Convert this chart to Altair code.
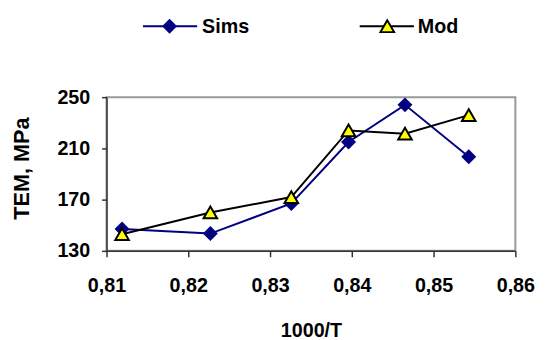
import altair as alt
import pandas as pd

x_vals = [0.8119, 0.8227, 0.8326, 0.8396, 0.8465, 0.8543]
sims = [147, 143.5, 167, 215, 244, 203.5]
mod = [143, 160, 172, 224, 221.5, 236]
x_ticks = [0.81, 0.82, 0.83, 0.84, 0.85, 0.86]
y_ticks = [130, 170, 210, 250]

FONT = "Liberation Sans"
FS = 20

df = pd.DataFrame({"x": x_vals, "Sims": sims, "Mod": mod})

xscale = alt.Scale(domain=[0.81, 0.86], nice=False, zero=False)
yscale = alt.Scale(domain=[130, 250], nice=False, zero=False)

xaxis = alt.Axis(
    values=x_ticks, labelExpr="replace(format(datum.value, '.2f'), '.', ',')",
    title="1000/T", grid=False, tickSize=6, labelPadding=19, labelFlush=False,
    labelOverlap=False, titleY=87, titleBaseline="alphabetic",
)
yaxis = alt.Axis(
    values=y_ticks, title="TEM, MPa", grid=False, tickSize=5, labelPadding=12,
    labelFlush=False, labelOverlap=False, titleFontSize=22,
    titleX=-86, titleY=72, titleBaseline="middle", titleAngle=-90, titleAlign="center",
)

DS = 230
TS = 190

base = alt.Chart(df)
sims_line = base.mark_line(color="#000080", strokeWidth=2).encode(
    x=alt.X("x:Q", scale=xscale, axis=xaxis), y=alt.Y("Sims:Q", scale=yscale, axis=yaxis))
sims_pts = base.mark_point(shape="diamond", filled=True, color="#000080", size=DS, opacity=1).encode(
    x=alt.X("x:Q", scale=xscale), y=alt.Y("Sims:Q", scale=yscale))
mod_line = base.mark_line(color="black", strokeWidth=2).encode(
    x=alt.X("x:Q", scale=xscale), y=alt.Y("Mod:Q", scale=yscale))
mod_pts = base.mark_point(shape="triangle-up", filled=True, fill="#FFFF00", stroke="black",
                          strokeWidth=2, size=TS, opacity=1).encode(
    x=alt.X("x:Q", scale=xscale), y=alt.Y("Mod:Q", scale=yscale))

# manual legend
leg_df = pd.DataFrame({"label": ["Sims"]})
leg_df2 = pd.DataFrame({"label": ["Mod"]})
LY = -72
l1 = alt.Chart(leg_df).mark_rule(color="#000080", strokeWidth=2).encode(
    x=alt.value(37), x2=alt.value(92), y=alt.value(LY))
p1 = alt.Chart(leg_df).mark_point(shape="diamond", filled=True, color="#000080", size=DS, opacity=1).encode(
    x=alt.value(64), y=alt.value(LY))
t1 = alt.Chart(leg_df).mark_text(align="left", baseline="middle", font=FONT, fontSize=FS,
                                 fontWeight="bold", color="black").encode(
    x=alt.value(97), y=alt.value(LY + 1), text="label:N")
l2 = alt.Chart(leg_df2).mark_rule(color="black", strokeWidth=2).encode(
    x=alt.value(257), x2=alt.value(312), y=alt.value(LY))
p2 = alt.Chart(leg_df2).mark_point(shape="triangle-up", filled=True, fill="#FFFF00", stroke="black",
                                   strokeWidth=2, size=TS, opacity=1).encode(
    x=alt.value(285), y=alt.value(LY))
t2 = alt.Chart(leg_df2).mark_text(align="left", baseline="middle", font=FONT, fontSize=FS,
                                  fontWeight="bold", color="black").encode(
    x=alt.value(316), y=alt.value(LY + 1), text="label:N")

chart = alt.layer(sims_line, sims_pts, mod_line, mod_pts, l1, p1, t1, l2, p2, t2).properties(
    width=415, height=156,
    padding={"left": 100, "top": 88, "right": 24, "bottom": 90},
    autosize=alt.AutoSizeParams(type="none"),
).configure_view(
    stroke="#999999", strokeWidth=2
).configure_axis(
    labelFont=FONT, labelFontSize=FS, labelFontWeight="bold", labelColor="black",
    titleFont=FONT, titleFontSize=FS, titleFontWeight="bold", titleColor="black",
    domainColor="#333333", domainWidth=1.5, tickColor="#333333", tickWidth=1.5,
)

chart.save("out.html", embed_options={"renderer": "svg", "actions": False})
